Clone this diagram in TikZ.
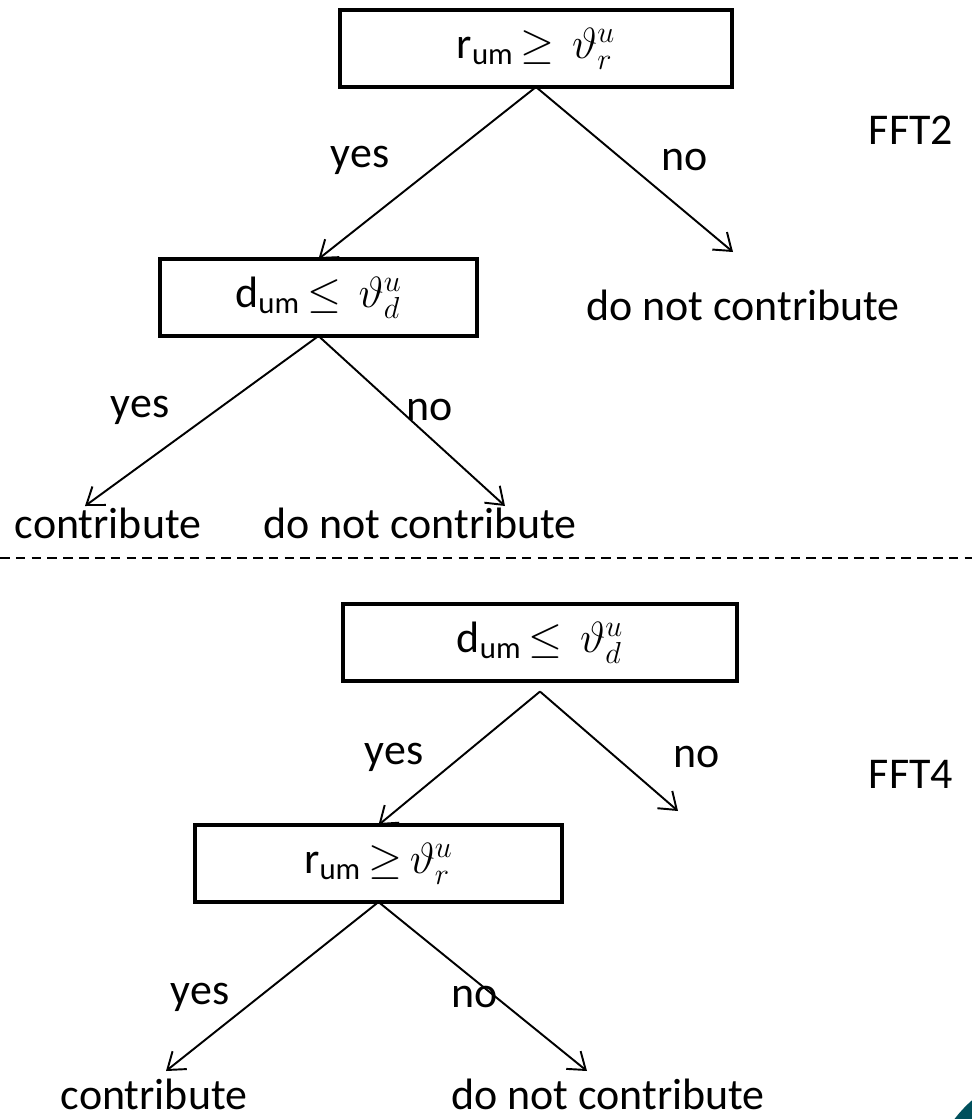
\documentclass[tikz,border=0pt]{standalone}
\usepackage{fontspec}
\setmainfont{Carlito}
\usetikzlibrary{arrows.meta}
\definecolor{teal}{HTML}{00505C}
\begin{document}
\begin{tikzpicture}[x=0.02cm,y=-0.02cm,
  test/.style={draw,line width=2pt,inner sep=0pt,outer sep=0pt,minimum height=1.54cm},
  lbl/.style={inner sep=0pt,font=\fontsize{25}{30}\selectfont},
  edge/.style={line width=1.1pt,-{Straight Barb[length=9pt,width=13pt,line width=1.1pt]}}]
\useasboundingbox (0,0) rectangle (972,1119);
\begin{scope}
\clip (0,0) rectangle (972,1119);
\fill[teal] (1060,1200) circle (133);
\end{scope}
% FFT2
\node[test,minimum width=7.84cm,lbl] (r1) at (536,48.5) {r\textsubscript{um}\,$\geq$\, $\vartheta^{u}_{r}$};
\node[test,minimum width=6.34cm,lbl] (d1) at (318.5,297.5) {d\textsubscript{um}\,$\leq$\, $\vartheta^{u}_{d}$};
\coordinate (r1no) at (733,252);
\coordinate (d1yes) at (85,506);
\coordinate (d1no) at (505,506);
\draw[edge] (r1.south) -- (d1.north);
\draw[edge] (r1.south) -- (r1no);
\draw[edge] (d1.south) -- (d1yes);
\draw[edge] (d1.south) -- (d1no);
\node[lbl] (y1) at (360,160) {yes};
\node[lbl] (n1) at (685,160) {no};
\node[lbl] (fft2) at (911,130) {FFT2};
\node[lbl] (out1) at (743,305) {do not contribute};
\node[lbl] (y2) at (140,410) {yes};
\node[lbl] (n2) at (430,410) {no};
\node[lbl,anchor=base] (out2) at (108,538) {contribute};
\node[lbl,anchor=base] (out3) at (420,538) {do not contribute};
% separator
\coordinate (sepL) at (0,558);
\coordinate (sepR) at (972,558);
\draw[line width=1pt,dash pattern=on 5.5pt off 3.5pt] (sepL) -- (sepR);
% FFT4
\node[test,minimum width=7.88cm,lbl] (d2) at (540,642.5) {d\textsubscript{um}\,$\leq$\, $\vartheta^{u}_{d}$};
\node[test,minimum width=7.34cm,lbl] (r2) at (378.5,863.5) {r\textsubscript{um}\,$\geq$\,$\vartheta^{u}_{r}$};
\coordinate (d2no) at (678,811);
\coordinate (r2yes) at (166,1071);
\coordinate (r2no) at (587,1071);
\draw[edge] ([yshift=-6]d2.south) -- (r2.north);
\draw[edge] ([yshift=-6]d2.south) -- (d2no);
\draw[edge] (r2.south) -- (r2yes);
\draw[edge] (r2.south) -- (r2no);
\node[lbl] (y3) at (394,757) {yes};
\node[lbl] (n3) at (697,757) {no};
\node[lbl] (fft4) at (911,774) {FFT4};
\node[lbl] (y4) at (200,997) {yes};
\node[lbl] (n4) at (475,997) {no};
\node[lbl,anchor=base] (out4) at (154,1109) {contribute};
\node[lbl,anchor=base] (out5) at (608,1109) {do not contribute};
\end{tikzpicture}
\end{document}
